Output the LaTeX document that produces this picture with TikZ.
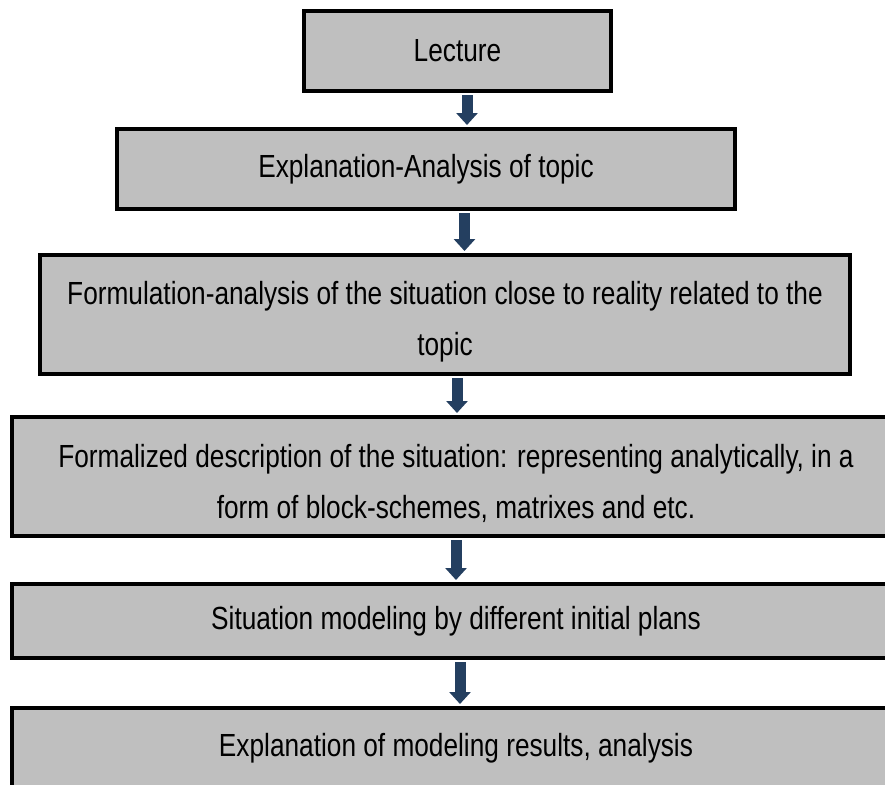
\documentclass[tikz,border=0pt]{standalone}
\usepackage{fontspec}
\setmainfont{Liberation Sans}[FakeStretch=0.82]
\usetikzlibrary{arrows.meta}
\definecolor{boxgray}{HTML}{BFBFBF}
\definecolor{arrowblue}{HTML}{243F60}
\begin{document}
\begin{tikzpicture}[x=0.75pt,y=-0.75pt,
	stage/.style={draw=black,line width=3pt,fill=boxgray,align=center,inner sep=0pt,
		font=\fontsize{24}{38}\selectfont},
	twoline/.style={text height=66pt},
	flow/.style={draw=arrowblue,line width=8.25pt,shorten <=1.5pt,shorten >=1.5pt,
		-{Triangle[width=15.75pt,length=9pt]}}]
			\useasboundingbox (0,0) rectangle (885,785);
			\clip (0,0) rectangle (885,785);
			\node[stage,minimum width=230.25pt,minimum height=60pt] (lecture) at (457.5,51) {Lecture};
			\node[stage,minimum width=463.5pt,minimum height=60pt] (explain) at (426,169) {Explanation-Analysis of topic};
			\node[stage,twoline,minimum width=607.5pt,minimum height=89.25pt] (formulate) at (445,314.5)
				{Formulation-analysis of the situation close to reality related to the\\topic};
			\node[stage,twoline,minimum width=666pt,minimum height=89.25pt] (formal) at (456,476.5)
				{Formalized description of the situation: representing analytically, in a\\form of block-schemes, matrixes and etc.};
			\node[stage,minimum width=666pt,minimum height=55.5pt] (model) at (456,621) {Situation modeling by different initial plans};
			\node[stage,minimum width=666pt,minimum height=60pt] (results) at (456,748) {Explanation of modeling results, analysis};
			\draw[flow] (lecture.south -| 467,0) -- (explain.north -| 467,0);
			\draw[flow] (explain.south -| 464.5,0) -- (formulate.north -| 464.5,0);
			\draw[flow] (formulate.south -| 457,0) -- (formal.north -| 457,0);
			\draw[flow] (formal.south -| 456,0) -- (model.north -| 456,0);
			\draw[flow] (model.south -| 460,0) -- (results.north -| 460,0);
		\end{tikzpicture}
\end{document}
